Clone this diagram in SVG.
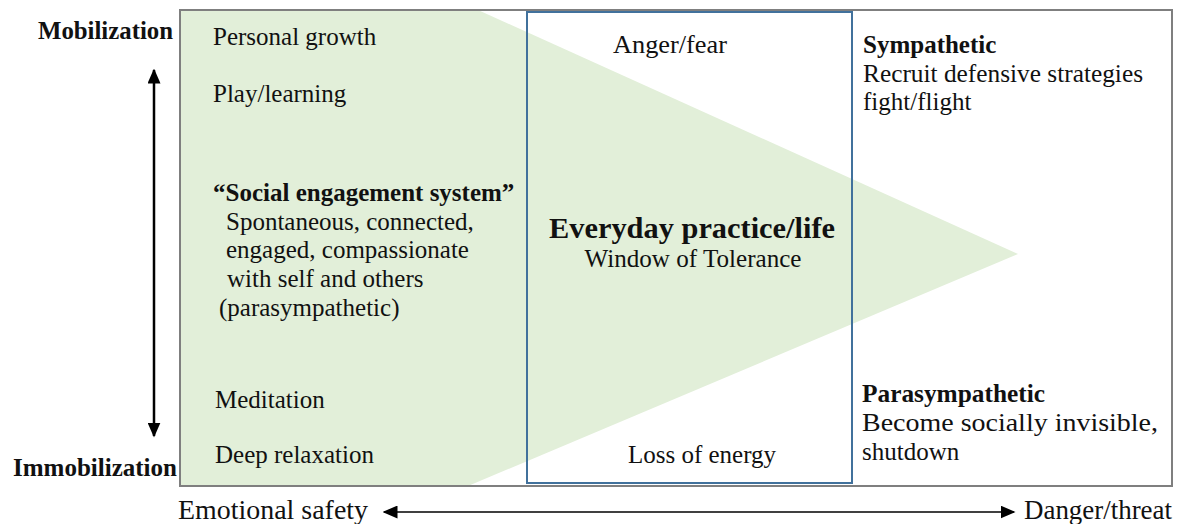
<svg xmlns="http://www.w3.org/2000/svg" width="1183" height="524" viewBox="0 0 1183 524">
<defs>
<style>
text{font-family:"Liberation Serif","Times New Roman",serif;fill:#111;}
.r{font-size:25px;}
.b{font-size:25px;font-weight:bold;}
.c{text-anchor:middle;}
.ax{font-size:27px;}
</style>
<marker id="ah" viewBox="0 0 10 10" refX="9" refY="5" markerWidth="15" markerHeight="13" orient="auto-start-reverse" markerUnits="userSpaceOnUse" preserveAspectRatio="none">
<path d="M0,0 L10,5 L0,10 z" fill="#000"/>
</marker>
</defs>
<rect width="1183" height="524" fill="#fff"/>
<g id="background">
<polygon points="180,10 478,10 1018,254 468,486 180,486" fill="#e2efd9"/>
<rect x="180" y="10" width="992" height="476" fill="none" stroke="#7f7f7f" stroke-width="2"/>
</g>
<g id="window">
<rect x="527" y="12" width="325" height="471" fill="none" stroke="#41719c" stroke-width="2"/>
<text class="r c" x="670" y="53" textLength="114" lengthAdjust="spacingAndGlyphs">Anger/fear</text>
<text class="b c" x="692" y="238" style="font-size:30px" textLength="286" lengthAdjust="spacingAndGlyphs">Everyday practice/life</text>
<text class="r c" x="693" y="267" style="font-size:24.5px" textLength="217" lengthAdjust="spacingAndGlyphs">Window of Tolerance</text>
<text class="r c" x="702" y="463">Loss of energy</text>
</g>
<g id="safe-states">
<text class="r" x="213" y="45">Personal growth</text>
<text class="r" x="213" y="102">Play/learning</text>
<text class="b" x="213" y="201">“Social engagement system”</text>
<text class="r" x="226" y="230">Spontaneous, connected,</text>
<text class="r" x="226" y="258">engaged, compassionate</text>
<text class="r" x="227" y="287">with self and others</text>
<text class="r" x="219" y="316">(parasympathetic)</text>
<text class="r" x="215" y="408">Meditation</text>
<text class="r" x="215" y="463">Deep relaxation</text>
</g>
<g id="sympathetic">
<text class="b" x="863" y="53">Sympathetic</text>
<text class="r" x="863" y="82" textLength="280" lengthAdjust="spacingAndGlyphs">Recruit defensive strategies</text>
<text class="r" x="863" y="110">fight/flight</text>
</g>
<g id="parasympathetic">
<text class="b" x="862" y="402" textLength="183" lengthAdjust="spacingAndGlyphs">Parasympathetic</text>
<text class="r" x="862" y="431" textLength="296" lengthAdjust="spacingAndGlyphs">Become socially invisible,</text>
<text class="r" x="862" y="460">shutdown</text>
</g>
<g id="axis-labels">
<text class="b" x="38" y="39" textLength="135" lengthAdjust="spacingAndGlyphs">Mobilization</text>
<text class="b" x="13" y="476" textLength="164" lengthAdjust="spacingAndGlyphs">Immobilization</text>
<text class="ax" x="178" y="519" textLength="190" lengthAdjust="spacingAndGlyphs">Emotional safety</text>
<text class="ax" x="1024" y="519" textLength="148" lengthAdjust="spacingAndGlyphs">Danger/threat</text>
</g>
<g id="connectors" stroke="#000" stroke-width="2.5" fill="none">
<line x1="154" y1="70" x2="154" y2="436" marker-start="url(#ah)" marker-end="url(#ah)"/>
<line x1="384" y1="512" x2="1014" y2="512" stroke-width="1.6" marker-start="url(#ah)" marker-end="url(#ah)"/>
</g>
</svg>
